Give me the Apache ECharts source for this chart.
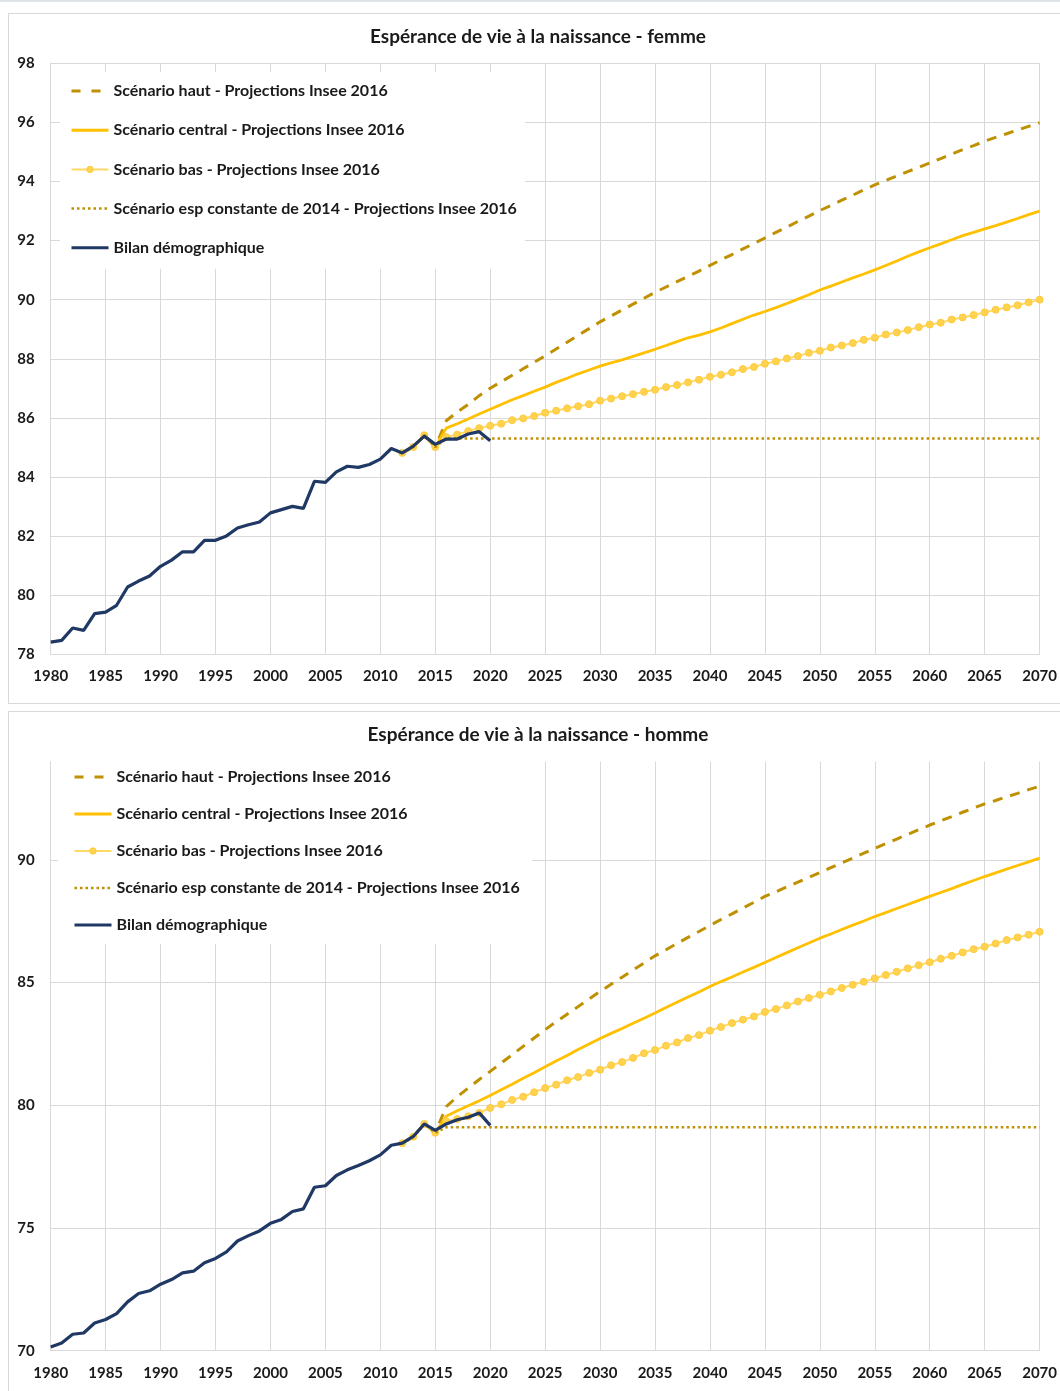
<!DOCTYPE html>
<html><head><meta charset="utf-8">
<script src="https://cdn.jsdelivr.net/npm/echarts@6/dist/echarts.min.js"></script>
<style>
html,body{margin:0;padding:0;background:#fff;width:1060px;height:1391px;overflow:hidden;position:relative;}
#topline{position:absolute;left:0;top:0;width:1060px;height:2px;background:#dfe3e8;}
.frame{position:absolute;left:8px;width:1060px;border:1px solid #d9d9d9;box-sizing:border-box;}
#f1{top:13px;height:691px;}
#f2{top:711px;height:700px;}
.chart{position:absolute;left:8px;width:1052px;}
#c1{top:13px;height:690px;}
#c2{top:711px;height:680px;}
</style></head>
<body>
<div id="topline"></div>
<div class="frame" id="f1"></div>
<div class="frame" id="f2"></div>
<div class="chart" id="c1"></div>
<div class="chart" id="c2"></div>
<script>
// ---------- DATA ----------
const obsStartYear = 1980;   // Bilan démographique : 1980..2020
const projStartYear = 2012;  // Projections Insee 2016 : 2012..2070
const xTicks = [1980,1985,1990,1995,2000,2005,2010,2015,2020,2025,2030,2035,2040,2045,2050,2055,2060,2065,2070];

const seriesNames = [
  'Scénario haut - Projections Insee 2016',
  'Scénario central - Projections Insee 2016',
  'Scénario bas - Projections Insee 2016',
  'Scénario esp constante de 2014 - Projections Insee 2016',
  'Bilan démographique'
];

// Femmes
const femmeBilan = [78.4,78.46,78.88,78.8,79.37,79.42,79.65,80.27,80.47,80.64,
  80.97,81.18,81.46,81.46,81.85,81.85,82.0,82.27,82.38,82.47,
  82.78,82.89,83.0,82.93,83.85,83.81,84.17,84.36,84.32,84.42,
  84.6,84.96,84.81,85.04,85.38,85.1,85.28,85.28,85.45,85.53,85.22];
const femmeHaut = [84.81,85.01,85.41,85.01,
  85.9,86.2,86.45,86.75,87.0,
  87.22,87.44,87.66,87.88,88.1,88.33,88.56,88.79,89.02,89.25,
  89.45,89.65,89.85,90.05,90.25,90.43,90.61,90.79,90.97,91.16,
  91.35,91.53,91.72,91.9,92.09,92.28,92.46,92.65,92.83,93.02,
  93.19,93.37,93.54,93.72,93.89,94.04,94.19,94.34,94.48,94.63,
  94.78,94.93,95.08,95.22,95.37,95.5,95.62,95.75,95.87,96.0];
const femmeCentral = [84.81,85.01,85.41,85.01,
  85.65,85.8,85.96,86.13,86.29,
  86.45,86.61,86.75,86.9,87.04,87.2,87.34,87.49,87.62,87.75,
  87.86,87.96,88.08,88.2,88.32,88.45,88.58,88.71,88.8,88.91,
  89.04,89.19,89.34,89.48,89.6,89.73,89.87,90.02,90.17,90.33,
  90.46,90.6,90.74,90.87,91.01,91.16,91.31,91.47,91.62,91.76,
  91.89,92.03,92.17,92.28,92.4,92.51,92.63,92.75,92.88,93.0];
const femmeBas = [84.81,85.01,85.41,85.01,
  85.35,85.43,85.55,85.65,85.73,
  85.8,85.92,85.98,86.06,86.17,86.24,86.32,86.39,86.46,86.58,
  86.65,86.73,86.8,86.88,86.95,87.04,87.11,87.2,87.29,87.39,
  87.46,87.54,87.65,87.72,87.83,87.91,88.01,88.09,88.2,88.27,
  88.38,88.45,88.53,88.64,88.71,88.82,88.89,88.97,89.07,89.16,
  89.22,89.33,89.4,89.48,89.57,89.66,89.74,89.81,89.91,90.0];
const femmeConstante = [84.81,85.01,85.41,85.01,
  85.3,85.3,85.3,85.3,85.3,
  85.3,85.3,85.3,85.3,85.3,85.3,85.3,85.3,85.3,85.3,
  85.3,85.3,85.3,85.3,85.3,85.3,85.3,85.3,85.3,85.3,
  85.3,85.3,85.3,85.3,85.3,85.3,85.3,85.3,85.3,85.3,
  85.3,85.3,85.3,85.3,85.3,85.3,85.3,85.3,85.3,85.3,
  85.3,85.3,85.3,85.3,85.3,85.3,85.3,85.3,85.3,85.3];

// Hommes
const hommeBilan = [70.15,70.31,70.67,70.72,71.13,71.27,71.51,71.99,72.33,72.44,
  72.71,72.9,73.17,73.24,73.58,73.76,74.03,74.47,74.69,74.88,
  75.19,75.35,75.67,75.78,76.66,76.72,77.14,77.37,77.55,77.74,
  77.98,78.37,78.46,78.73,79.24,78.98,79.24,79.41,79.51,79.69,79.18];
const hommeHaut = [78.45,78.72,79.24,78.88,
  79.95,80.35,80.7,81.05,81.38,
  81.72,82.06,82.4,82.74,83.08,83.4,83.71,84.02,84.33,84.64,
  84.93,85.22,85.51,85.8,86.09,86.34,86.59,86.84,87.08,87.33,
  87.57,87.8,88.04,88.27,88.51,88.7,88.9,89.09,89.29,89.48,
  89.68,89.88,90.07,90.27,90.47,90.66,90.85,91.04,91.23,91.42,
  91.59,91.76,91.94,92.11,92.28,92.42,92.57,92.71,92.86,93.0];
const hommeCentral = [78.45,78.72,79.24,78.88,
  79.55,79.78,79.98,80.18,80.4,
  80.63,80.86,81.1,81.33,81.57,81.8,82.03,82.27,82.5,82.72,
  82.93,83.13,83.34,83.55,83.76,83.98,84.2,84.41,84.62,84.84,
  85.04,85.23,85.43,85.62,85.82,86.02,86.22,86.42,86.61,86.81,
  86.98,87.16,87.34,87.51,87.69,87.85,88.02,88.18,88.35,88.51,
  88.67,88.83,89.0,89.16,89.32,89.47,89.62,89.77,89.92,90.07];
const hommeBas = [78.45,78.72,79.24,78.88,
  79.35,79.44,79.55,79.69,79.89,
  80.04,80.22,80.35,80.53,80.7,80.84,81.02,81.15,81.32,81.45,
  81.63,81.76,81.93,82.12,82.25,82.43,82.56,82.74,82.86,83.04,
  83.19,83.35,83.49,83.62,83.8,83.92,84.07,84.23,84.37,84.5,
  84.64,84.78,84.91,85.03,85.17,85.31,85.44,85.58,85.71,85.83,
  85.97,86.09,86.23,86.36,86.46,86.59,86.73,86.84,86.95,87.07];
const hommeConstante = [78.45,78.72,79.24,78.88,
  79.1,79.1,79.1,79.1,79.1,
  79.1,79.1,79.1,79.1,79.1,79.1,79.1,79.1,79.1,79.1,
  79.1,79.1,79.1,79.1,79.1,79.1,79.1,79.1,79.1,79.1,
  79.1,79.1,79.1,79.1,79.1,79.1,79.1,79.1,79.1,79.1,
  79.1,79.1,79.1,79.1,79.1,79.1,79.1,79.1,79.1,79.1,
  79.1,79.1,79.1,79.1,79.1,79.1,79.1,79.1,79.1,79.1];

// ---------- BUILD ----------
const FONT = 'Lato';
const TXT = '#1a1a1a';
const GRIDC = '#d9d9d9';
function pairs(start, vals){ return vals.map((v,i)=>[start+i, v]); }

const legendLineStyles = [
  {color:'#BF9000', width:3, type:[9,11]},
  {color:'#FFC000', width:3, type:'solid'},
  {color:'#FFD966', width:2, type:'solid'},
  {color:'#BF9000', width:2.5, type:[2.5,3]},
  {color:'#1F3864', width:3, type:'solid'}
];

function makeOption(cfg){
  const lab = {fontFamily:FONT, fontWeight:'bold', fontSize:15, color:TXT};
  const legData = seriesNames.map((n,i)=> i===2
    ? {name:n, lineStyle:legendLineStyles[i], itemStyle:{color:'#FFD34D', borderColor:'#FFC940', borderWidth:1}}
    : {name:n, lineStyle:legendLineStyles[i], itemStyle:{opacity:0, borderWidth:0}});
  return {
    animation:false,
    backgroundColor:'transparent',
    graphic:[{type:'text', x:cfg.titleX, y:24, silent:true,
      style:{text:cfg.title, textAlign:'center', textVerticalAlign:'middle',
        font:'bold 19px '+FONT, fill:TXT}}],
    legend:{
      orient:'vertical', left:cfg.legLeft, top:cfg.legTop,
      padding:cfg.legPad, itemWidth:37, itemHeight:8, itemGap:cfg.legGap,
      backgroundColor:'#ffffff', selectedMode:false,
      textStyle:{fontFamily:FONT, fontWeight:'bold', fontSize:16, color:TXT},
      data:legData
    },
    grid:{left:42.7, top:cfg.gridTop, width:990.3, height:cfg.gridH, containLabel:false},
    xAxis:{type:'value', min:xTicks[0], max:xTicks[xTicks.length-1], interval:5,
      axisLine:{show:true, lineStyle:{color:GRIDC}}, axisTick:{show:false},
      axisLabel:{...lab, margin:15, formatter:v=>String(v)},
      splitLine:{show:true, lineStyle:{color:GRIDC, width:1}}},
    yAxis:{type:'value', min:cfg.yMin, max:cfg.yMax, interval:cfg.yInt,
      axisLine:{show:true, lineStyle:{color:GRIDC}}, axisTick:{show:false},
      axisLabel:{...lab, margin:16, showMaxLabel:cfg.showMax},
      splitLine:{show:true, showMaxLine:cfg.showMax, lineStyle:{color:GRIDC, width:1}}},
    series:[
      {name:seriesNames[0], type:'line', data:pairs(projStartYear, cfg.haut), symbol:'none', silent:true, z:2,
        itemStyle:{color:'#BF9000'}, lineStyle:{color:'#BF9000', width:3, type:[10,8]}},
      {name:seriesNames[1], type:'line', data:pairs(projStartYear, cfg.central), symbol:'none', silent:true, z:3,
        itemStyle:{color:'#FFC000'}, lineStyle:{color:'#FFC000', width:2.8}},
      {name:seriesNames[2], type:'line', data:pairs(projStartYear, cfg.bas), symbol:'circle', symbolSize:7, showSymbol:true, silent:true, z:4,
        itemStyle:{color:'#FFD34D', borderColor:'#FFC940', borderWidth:1}, lineStyle:{color:'#FFD966', width:2}},
      {name:seriesNames[3], type:'line', data:pairs(projStartYear, cfg.constante), symbol:'none', silent:true, z:5,
        itemStyle:{color:'#BF9000'}, lineStyle:{color:'#BF9000', width:2.5, type:[2.5,3]}},
      {name:seriesNames[4], type:'line', data:pairs(obsStartYear, cfg.bilan), symbol:'none', silent:true, z:6,
        itemStyle:{color:'#1F3864'}, lineStyle:{color:'#1F3864', width:3.2}}
    ]
  };
}

const c1 = echarts.init(document.getElementById('c1'), null, {renderer:'canvas'});
c1.setOption(makeOption({
  title:'Espérance de vie à la naissance - femme', titleX:530,
  legLeft:52, legTop:59, legPad:[11,8,13,10], legGap:23.2,
  gridTop:50.5, gridH:590.5, yMin:78, yMax:98, yInt:2, showMax:true,
  haut:femmeHaut, central:femmeCentral, bas:femmeBas, constante:femmeConstante, bilan:femmeBilan
}));
const c2 = echarts.init(document.getElementById('c2'), null, {renderer:'canvas'});
c2.setOption(makeOption({
  title:'Espérance de vie à la naissance - homme', titleX:530,
  legLeft:50, legTop:51, legPad:[7,12,11,15], legGap:21,
  gridTop:50.7, gridH:589, yMin:70, yMax:94, yInt:5, showMax:false,
  haut:hommeHaut, central:hommeCentral, bas:hommeBas, constante:hommeConstante, bilan:hommeBilan
}));
</script>
</body></html>
